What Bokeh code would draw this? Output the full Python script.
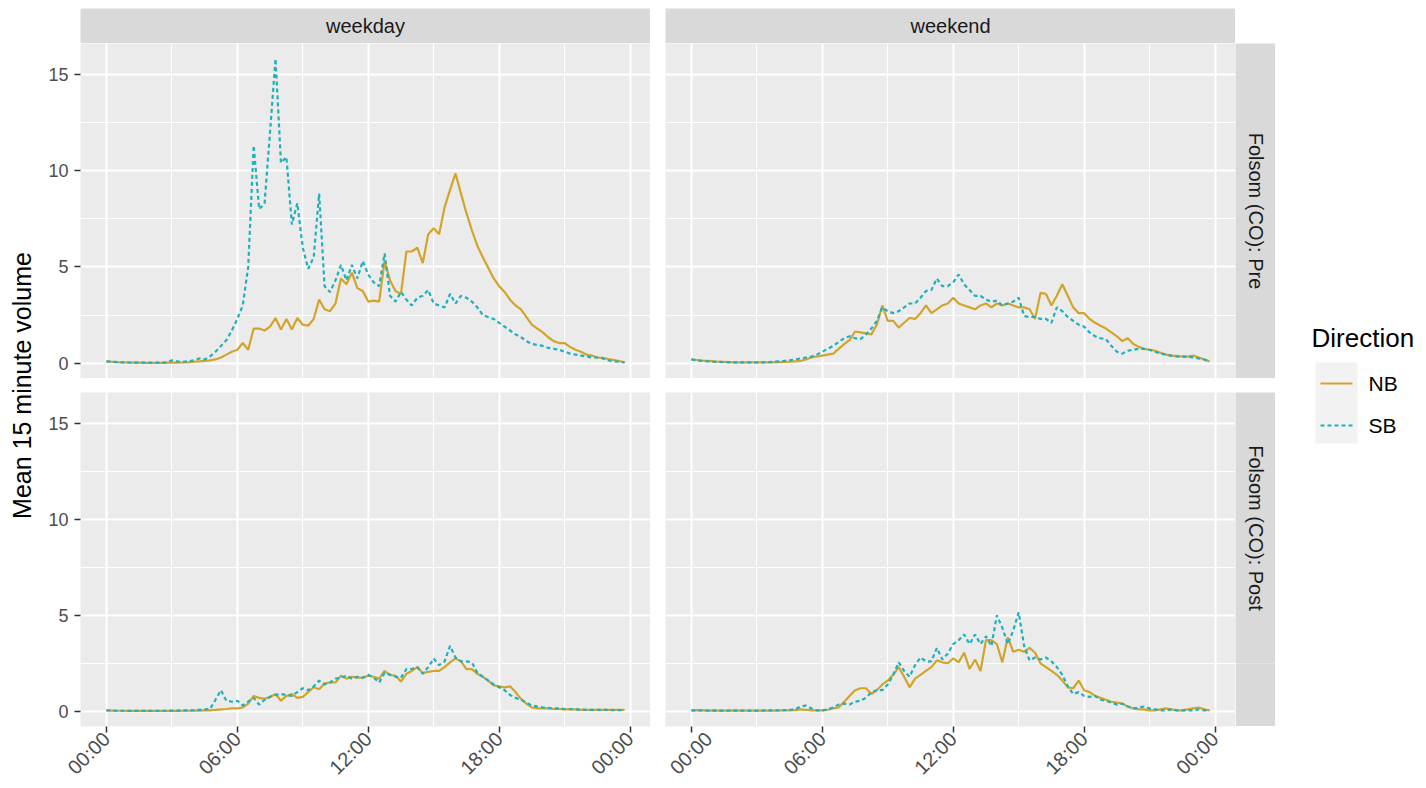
import math
from bokeh.plotting import figure
from bokeh.layouts import row, column
from bokeh.models import Range1d, FixedTicker, LinearAxis, Grid, Spacer
from bokeh.embed import file_html
from bokeh.resources import INLINE
from bokeh.core.properties import value

# ---------------- data ----------------
time_hours = [i / 4 for i in range(96)]  # 15-minute slots, 00:00 .. 23:45
x_tick_values = [0, 6, 12, 18, 24]
x_tick_labels = ["00:00", "06:00", "12:00", "18:00", "00:00"]
x_minor_ticks = [3, 9, 15, 21]
y_tick_values = [0, 5, 10, 15]
y_minor_ticks = [2.5, 7.5, 12.5]
col_facets = ["weekday", "weekend"]
row_facets = ["Folsom (CO): Pre", "Folsom (CO): Post"]
directions = ["NB", "SB"]
y_title = "Mean 15 minute volume"
legend_title = "Direction"

weekday_pre_nb = [
    0.10, 0.08, 0.06, 0.05, 0.04, 0.03, 0.03, 0.02, 0.02, 0.02, 0.02, 0.03,
    0.03, 0.03, 0.04, 0.05, 0.08, 0.10, 0.12, 0.15,
    0.20, 0.30, 0.45, 0.60, 0.70, 1.05, 0.70, 1.80, 1.80, 1.70,
    1.90, 2.35, 1.75, 2.30, 1.75, 2.35, 2.00, 1.95, 2.30, 3.30,
    2.80, 2.70, 3.10, 4.40, 4.10, 4.70, 3.90, 3.75, 3.20, 3.25,
    3.20, 5.30, 4.30, 3.75, 3.60, 5.80, 5.80, 6.00, 5.20, 6.70,
    7.00, 6.70, 8.10, 9.00, 9.85, 8.80, 7.80, 6.90, 6.10, 5.50,
    4.95, 4.40, 4.00, 3.70, 3.30, 3.00, 2.80, 2.40, 2.00, 1.80,
    1.60, 1.35, 1.15, 1.05, 1.05, 0.85, 0.70, 0.60, 0.45, 0.40,
    0.30, 0.28, 0.22, 0.18, 0.12, 0.05]
weekday_pre_sb = [
    0.10, 0.08, 0.06, 0.05, 0.04, 0.03, 0.03, 0.03, 0.03, 0.03, 0.03, 0.04,
    0.15, 0.10, 0.08, 0.10, 0.15, 0.25, 0.20, 0.35,
    0.60, 0.90, 1.20, 1.70, 2.30, 3.00, 5.00, 11.3, 8.00, 8.30,
    12.0, 15.8, 10.4, 10.7, 7.20, 8.30, 6.00, 4.90, 5.50, 8.80,
    4.00, 3.70, 4.30, 5.10, 4.30, 5.10, 4.40, 5.30, 4.60, 4.20,
    4.00, 5.70, 3.50, 3.20, 3.70, 3.30, 3.00, 3.40, 3.50, 3.80,
    3.10, 3.00, 2.90, 3.60, 3.10, 3.50, 3.40, 3.20, 2.90, 2.50,
    2.40, 2.30, 2.10, 1.90, 1.70, 1.50, 1.35, 1.15, 1.00, 0.95,
    0.90, 0.80, 0.75, 0.70, 0.60, 0.50, 0.45, 0.40, 0.35, 0.30,
    0.30, 0.25, 0.15, 0.10, 0.08, 0.05]
weekend_pre_nb = [
    0.20, 0.17, 0.14, 0.12, 0.10, 0.08, 0.07, 0.06, 0.05, 0.05, 0.05, 0.05,
    0.05, 0.05, 0.05, 0.05, 0.06, 0.07, 0.08, 0.10,
    0.12, 0.20, 0.30, 0.35, 0.40, 0.45, 0.50, 0.75, 1.00, 1.20,
    1.65, 1.60, 1.55, 1.50, 2.00, 3.00, 2.20, 2.20, 1.85, 2.10,
    2.35, 2.30, 2.60, 3.00, 2.60, 2.80, 3.00, 3.10, 3.40, 3.10,
    3.00, 2.90, 2.80, 3.00, 3.10, 2.90, 3.10, 3.00, 3.10, 3.00,
    2.90, 2.90, 2.80, 2.30, 3.65, 3.60, 3.00, 3.50, 4.10, 3.50,
    2.90, 2.60, 2.60, 2.30, 2.10, 1.95, 1.80, 1.60, 1.40, 1.15,
    1.30, 1.00, 0.85, 0.75, 0.70, 0.65, 0.55, 0.45, 0.40, 0.38,
    0.35, 0.35, 0.40, 0.30, 0.20, 0.10]
weekend_pre_sb = [
    0.20, 0.15, 0.12, 0.10, 0.08, 0.07, 0.06, 0.05, 0.05, 0.05, 0.05, 0.05,
    0.05, 0.05, 0.06, 0.07, 0.10, 0.12, 0.15, 0.20,
    0.25, 0.30, 0.35, 0.45, 0.60, 0.75, 0.90, 1.10, 1.30, 1.40,
    1.30, 1.25, 1.50, 1.80, 2.20, 2.90, 2.70, 2.60, 2.70, 2.90,
    3.10, 3.10, 3.40, 3.75, 3.80, 4.40, 4.00, 4.00, 4.20, 4.60,
    4.10, 3.80, 3.50, 3.50, 3.30, 3.20, 3.25, 3.00, 3.10, 3.20,
    3.40, 2.45, 2.40, 2.40, 2.30, 2.30, 2.10, 2.90, 2.70, 2.40,
    2.20, 2.00, 1.90, 1.60, 1.40, 1.30, 1.25, 0.90, 0.60, 0.50,
    0.65, 0.70, 0.75, 0.75, 0.70, 0.60, 0.50, 0.45, 0.40, 0.35,
    0.35, 0.35, 0.30, 0.25, 0.20, 0.10]
weekday_post_nb = [
    0.05, 0.04, 0.03, 0.03, 0.02, 0.02, 0.02, 0.02, 0.02, 0.02, 0.02, 0.02,
    0.02, 0.02, 0.03, 0.03, 0.04, 0.04, 0.05, 0.05,
    0.08, 0.10, 0.12, 0.15, 0.15, 0.20, 0.40, 0.80, 0.70, 0.65,
    0.75, 0.90, 0.55, 0.80, 0.90, 0.70, 0.75, 1.00, 1.25, 1.15,
    1.45, 1.50, 1.50, 1.85, 1.70, 1.80, 1.75, 1.75, 1.85, 1.80,
    1.70, 2.10, 1.90, 1.85, 1.55, 1.95, 2.10, 2.30, 2.00, 2.05,
    2.10, 2.10, 2.30, 2.55, 2.75, 2.60, 2.20, 2.20, 1.95, 1.80,
    1.60, 1.35, 1.30, 1.25, 1.30, 1.00, 0.65, 0.40, 0.20, 0.15,
    0.15, 0.15, 0.12, 0.12, 0.10, 0.10, 0.10, 0.08, 0.08, 0.08,
    0.08, 0.08, 0.08, 0.07, 0.07, 0.07]
weekday_post_sb = [
    0.05, 0.04, 0.03, 0.03, 0.03, 0.03, 0.03, 0.03, 0.03, 0.03, 0.03, 0.03,
    0.04, 0.04, 0.05, 0.05, 0.06, 0.08, 0.10, 0.12,
    0.60, 1.10, 0.55, 0.50, 0.55, 0.30, 0.50, 0.70, 0.35, 0.60,
    0.75, 0.85, 0.90, 0.85, 0.80, 1.00, 1.20, 1.10, 1.30, 1.60,
    1.40, 1.50, 1.70, 1.75, 1.85, 1.70, 1.80, 1.75, 1.90, 1.75,
    1.50, 2.00, 1.90, 1.80, 1.75, 2.20, 2.20, 2.30, 1.95, 2.30,
    2.75, 2.40, 2.60, 3.40, 2.80, 2.60, 2.60, 2.55, 2.00, 1.80,
    1.60, 1.40, 1.25, 1.10, 0.85, 0.70, 0.60, 0.45, 0.30, 0.25,
    0.20, 0.18, 0.15, 0.15, 0.12, 0.12, 0.10, 0.10, 0.08, 0.08,
    0.08, 0.07, 0.07, 0.06, 0.06, 0.05]
weekend_post_nb = [
    0.05, 0.06, 0.05, 0.04, 0.05, 0.04, 0.04, 0.04, 0.05, 0.04, 0.04, 0.04,
    0.04, 0.04, 0.04, 0.04, 0.05, 0.05, 0.05, 0.06,
    0.10, 0.08, 0.05, 0.05, 0.05, 0.08, 0.15, 0.20, 0.50, 0.80,
    1.10, 1.20, 1.20, 0.90, 1.10, 1.40, 1.60, 1.90, 2.30, 1.80,
    1.25, 1.70, 1.90, 2.10, 2.30, 2.65, 2.55, 2.50, 2.75, 2.55,
    3.05, 2.20, 2.70, 2.10, 3.70, 3.70, 3.50, 2.55, 3.85, 3.10,
    3.20, 3.10, 3.30, 3.05, 2.50, 2.30, 2.10, 1.90, 1.60, 1.25,
    1.20, 1.60, 1.10, 1.00, 0.80, 0.70, 0.60, 0.50, 0.45, 0.40,
    0.25, 0.15, 0.10, 0.10, 0.05, 0.05, 0.10, 0.15, 0.10, 0.05,
    0.05, 0.10, 0.15, 0.20, 0.10, 0.05]
weekend_post_sb = [
    0.05, 0.05, 0.05, 0.04, 0.04, 0.04, 0.04, 0.04, 0.04, 0.04, 0.04, 0.04,
    0.04, 0.04, 0.05, 0.05, 0.05, 0.06, 0.08, 0.10,
    0.25, 0.30, 0.15, 0.05, 0.05, 0.10, 0.20, 0.35, 0.40, 0.35,
    0.50, 0.55, 0.70, 1.00, 1.10, 1.10, 1.40, 1.90, 2.55, 2.10,
    1.80, 2.40, 2.80, 2.60, 2.60, 3.30, 2.70, 3.00, 3.50, 3.70,
    4.00, 3.50, 4.00, 3.50, 3.90, 3.40, 5.00, 4.35, 3.50, 4.20,
    5.15, 3.40, 2.65, 2.80, 2.70, 2.80, 2.60, 2.30, 1.90, 1.30,
    0.90, 1.00, 0.80, 0.75, 0.80, 0.60, 0.55, 0.45, 0.35, 0.40,
    0.25, 0.15, 0.20, 0.25, 0.15, 0.10, 0.05, 0.05, 0.10, 0.05,
    0.05, 0.05, 0.05, 0.10, 0.05, 0.05]

# ---------------- style ----------------
FONT = "Liberation Sans"
NB_COLOR = "#D2A52A"
SB_COLOR = "#1FB0BE"
PANEL_BG = "#EBEBEB"
STRIP_BG = "#D9D9D9"
FRAME_W = 570
H = 788

x_ticker = FixedTicker(ticks=x_tick_values, minor_ticks=x_minor_ticks)
y_ticker = FixedTicker(ticks=y_tick_values, minor_ticks=y_minor_ticks)


def base_fig(**kw):
    f = figure(x_axis_location=None, y_axis_location=None, toolbar_location=None,
               output_backend="svg", outline_line_color=None, **kw)
    f.xgrid.visible = False
    f.ygrid.visible = False
    return f


def style_axis(ax, size, standoff):
    ax.axis_line_color = None
    ax.major_tick_line_color = "#333333"
    ax.major_tick_line_width = 1.5
    ax.major_tick_out = 6
    ax.major_tick_in = 0
    ax.minor_tick_line_color = None
    ax.major_label_text_color = "#4D4D4D"
    ax.major_label_text_font = FONT
    ax.major_label_text_font_size = size
    ax.major_label_standoff = standoff


def panel(nb, sb, frame_h, left_axis, bottom_axis):
    p = base_fig(frame_width=FRAME_W, frame_height=frame_h,
                 x_range=Range1d(-1.1875, 24.9375), y_range=Range1d(-0.79, 16.59),
                 background_fill_color=PANEL_BG, border_fill_color="white",
                 min_border_left=40 if left_axis else 0, min_border_right=0,
                 min_border_top=0, min_border_bottom=62 if bottom_axis else 0)
    for dim, tk in ((0, x_ticker), (1, y_ticker)):
        p.add_layout(Grid(dimension=dim, ticker=tk, grid_line_color="white",
                          grid_line_width=2, minor_grid_line_color="white",
                          minor_grid_line_width=1))
    if left_axis:
        ax = LinearAxis(ticker=y_ticker)
        style_axis(ax, "18px", 6)
        p.add_layout(ax, "left")
    if bottom_axis:
        ax = LinearAxis(ticker=x_ticker,
                        major_label_overrides={v: l for v, l in zip(x_tick_values, x_tick_labels)},
                        major_label_orientation=math.pi / 4)
        style_axis(ax, "20px", 3)
        p.add_layout(ax, "below")
    p.line(time_hours, nb, line_color=NB_COLOR, line_width=2.2)
    p.line(time_hours, sb, line_color=SB_COLOR, line_width=2.2, line_dash="4 3")
    return p


def strip(text, w, h, angle=0.0):
    s = base_fig(width=w, height=h, x_range=Range1d(0, 1), y_range=Range1d(0, 1),
                 min_border=0, background_fill_color=STRIP_BG, border_fill_color=STRIP_BG)
    s.text(x=[0.5], y=[0.5], text=[text], angle=angle, text_align="center",
           text_baseline="middle", text_color="#1A1A1A",
           text_font=value(FONT), text_font_size="20px")
    return s


# panels
tl = panel(weekday_pre_nb, weekday_pre_sb, 335, True, False)
tr = panel(weekend_pre_nb, weekend_pre_sb, 335, False, False)
bl = panel(weekday_post_nb, weekday_post_sb, 334, True, True)
br = panel(weekend_post_nb, weekend_post_sb, 334, False, True)

strip_row = row(Spacer(width=40, height=35), strip(col_facets[0], FRAME_W, 35),
                Spacer(width=15, height=35), strip(col_facets[1], FRAME_W, 35))
top_row = row(tl, Spacer(width=15, height=335), tr, strip(row_facets[0], 40, 335, -math.pi / 2))
bottom_row = row(bl, Spacer(width=15, height=396), br, strip(row_facets[1], 40, 334, -math.pi / 2))
grid_col = column(Spacer(width=1235, height=8), strip_row, top_row,
                  Spacer(width=1235, height=14), bottom_row)

# y axis title
ylab = base_fig(width=40, height=H, x_range=Range1d(0, 40), y_range=Range1d(0, H),
                min_border=0, background_fill_color="white", border_fill_color="white")
ylab.text(x=[21], y=[H - 385], text=[y_title], angle=math.pi / 2, text_align="center",
          text_baseline="middle", text_color="black", text_font=value(FONT),
          text_font_size="25px")

# legend
LW = 151
lg = base_fig(width=LW, height=H, x_range=Range1d(0, LW), y_range=Range1d(0, H),
              min_border=0, background_fill_color="white", border_fill_color="white")
lg.text(x=[36], y=[H - 337], text=[legend_title], text_align="left", text_baseline="middle",
        text_color="black", text_font=value(FONT), text_font_size="26px")
lg.quad(left=[40], right=[82], bottom=[H - 443], top=[H - 362], fill_color="#F2F2F2", line_color=None)
key_y = [H - 383, H - 425]
for d, c, dash, ky in zip(directions, [NB_COLOR, SB_COLOR], ["solid", "4 3"], key_y):
    lg.line([45, 77], [ky, ky], line_color=c, line_width=2.2, line_dash=dash)
    lg.text(x=[93], y=[ky], text=[d], text_align="left", text_baseline="middle",
            text_color="black", text_font=value(FONT), text_font_size="21px")

layout = row(ylab, grid_col, lg)

open("out.html", "w").write(file_html(layout, INLINE))
